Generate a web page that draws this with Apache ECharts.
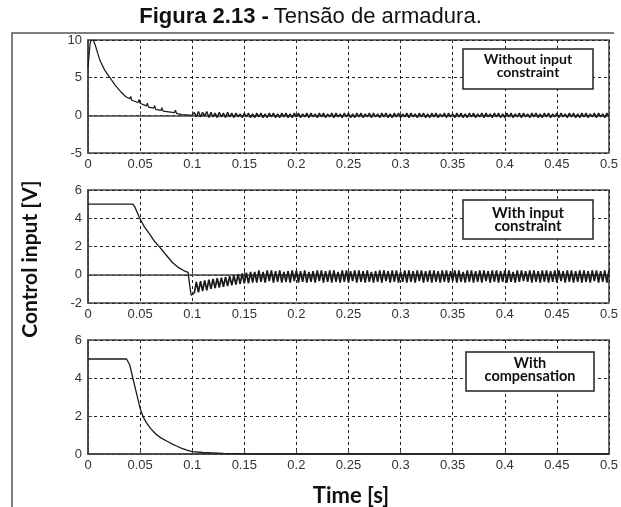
<!DOCTYPE html>
<html><head><meta charset="utf-8">
<script src="https://cdn.jsdelivr.net/npm/echarts@6/dist/echarts.min.js"></script>
<style>html,body{margin:0;padding:0;background:#fff}#c{width:621px;height:507px}</style>
</head><body><div id="c"></div>
<script>
// ---- data ----
const xTicks = [0,0.05,0.1,0.15,0.2,0.25,0.3,0.35,0.4,0.45,0.5];
const panelLabels = ["Without input\nconstraint","With input\nconstraint","With\ncompensation"];

// Panel 1: without input constraint (transient)
const topTime = [0,0.0015,0.002,0.003,0.005,0.007,0.0114,0.016,0.021,0.026,0.031,0.036,0.04,0.041,0.042,0.048,0.049,0.05,0.056,0.057,0.058,0.063,0.064,0.065,0.07,0.071,0.072,0.083,0.084,0.085,0.09,0.095,0.1];
const topVal  = [6.3,6.3,9.5,10,10,9.3,7.3,6.0,5.0,4.0,3.2,2.5,2.2,2.5,2.0,1.7,2.1,1.6,1.25,1.6,1.1,0.95,1.3,0.8,0.65,1.0,0.55,0.35,0.7,0.25,0.1,0.05,0.0];
const topOscStart = 0.102, topOscStep = 0.002;
const topOsc = [
 0.4,-0.2,0.5,-0.2,0.4,-0.1,0.5,-0.3,0.4,-0.2,
 0.3,-0.3,0.4,-0.2,0.3,-0.3,0.4,-0.2,0.3,-0.3,
 0.3,-0.2,0.2,-0.3,0.3,-0.2,0.3,-0.3,0.2,-0.3,
 0.3,-0.2,0.3,-0.3,0.2,-0.3,0.3,-0.2,0.3,-0.3,
 0.2,-0.3,0.3,-0.2,0.3,-0.3,0.2,-0.3,0.3,-0.2,
 0.3,-0.3,0.2,-0.2,0.3,-0.3,0.3,-0.2,0.2,-0.3,
 0.3,-0.2,0.3,-0.3,0.2,-0.2,0.3,-0.3,0.3,-0.2,
 0.2,-0.3,0.3,-0.2,0.3,-0.3,0.2,-0.3,0.3,-0.2,
 0.3,-0.3,0.2,-0.2,0.3,-0.3,0.3,-0.2,0.2,-0.3,
 0.3,-0.2,0.3,-0.3,0.2,-0.3,0.3,-0.2,0.3,-0.3,
 0.2,-0.2,0.3,-0.3,0.3,-0.2,0.2,-0.3,0.3,-0.2,
 0.3,-0.3,0.2,-0.3,0.3,-0.2,0.3,-0.3,0.2,-0.2,
 0.3,-0.3,0.3,-0.2,0.2,-0.3,0.3,-0.2,0.3,-0.3,
 0.2,-0.3,0.3,-0.2,0.3,-0.3,0.2,-0.2,0.3,-0.3,
 0.3,-0.2,0.2,-0.3,0.3,-0.2,0.3,-0.3,0.2,-0.3,
 0.3,-0.2,0.3,-0.3,0.2,-0.2,0.3,-0.3,0.3,-0.2,
 0.2,-0.3,0.3,-0.2,0.3,-0.3,0.2,-0.3,0.3,-0.2,
 0.3,-0.3,0.2,-0.2,0.3,-0.3,0.3,-0.2,0.2,-0.3,
 0.3,-0.2,0.3,-0.3,0.2,-0.3,0.3,-0.2,0.3,-0.3,
 0.2,-0.2,0.3,-0.3,0.3,-0.2,0.2,-0.3,0.3,-0.2
];

// Panel 2: with input constraint
const midTime = [0,0.043,0.045,0.049,0.054,0.059,0.064,0.069,0.075,0.081,0.087,0.093,0.096,0.0975,0.099,0.1];
const midVal  = [5,5,4.8,4.1,3.4,2.9,2.35,1.94,1.4,0.87,0.5,0.25,0.17,-0.7,-1.45,-1.5];
const midOscStart = 0.102, midOscStep = 0.002;
const midOsc = [
 -1.3,-0.5,-1.25,-0.45,-1.15,-0.4,-1.1,-0.35,-1.0,-0.3,
 -0.95,-0.25,-0.9,-0.2,-0.85,-0.15,-0.8,-0.1,-0.75,-0.05,
 -0.7,0.05,-0.65,0.1,-0.6,0.15,-0.6,0.2,-0.55,0.2,
 -0.55,0.3,-0.5,0.2,-0.55,0.3,-0.45,0.3,-0.55,0.25,
 -0.5,0.3,-0.55,0.2,-0.5,0.25,-0.55,0.3,-0.45,0.3,
 -0.55,0.25,-0.5,0.3,-0.55,0.2,-0.5,0.25,-0.55,0.3,
 -0.45,0.3,-0.55,0.25,-0.5,0.3,-0.55,0.3,-0.5,0.2,
 -0.55,0.3,-0.5,0.3,-0.55,0.25,-0.45,0.3,-0.55,0.3,
 -0.5,0.25,-0.55,0.3,-0.5,0.2,-0.55,0.25,-0.5,0.3,
 -0.55,0.3,-0.45,0.25,-0.55,0.3,-0.5,0.3,-0.55,0.2,
 -0.5,0.3,-0.55,0.3,-0.5,0.25,-0.55,0.3,-0.45,0.3,
 -0.55,0.25,-0.5,0.3,-0.55,0.3,-0.5,0.25,-0.55,0.3,
 -0.5,0.3,-0.55,0.25,-0.45,0.3,-0.55,0.3,-0.5,0.2,
 -0.55,0.3,-0.5,0.3,-0.55,0.25,-0.5,0.3,-0.55,0.3,
 -0.45,0.25,-0.55,0.3,-0.5,0.3,-0.55,0.25,-0.5,0.3,
 -0.55,0.3,-0.5,0.2,-0.55,0.3,-0.5,0.3,-0.45,0.25,
 -0.5,0.3,-0.55,0.3,-0.5,0.25,-0.55,0.3,-0.5,0.3,
 -0.55,0.25,-0.5,0.3,-0.55,0.3,-0.45,0.25,-0.55,0.3,
 -0.5,0.3,-0.55,0.25,-0.5,0.3,-0.55,0.3,-0.5,0.25,
 -0.55,0.3,-0.45,0.3,-0.55,0.25,-0.5,0.3,-0.55,0.3
];

// Panel 3: with compensation
const botTime = [0,0.037,0.04,0.043,0.047,0.05,0.053,0.056,0.06,0.065,0.07,0.075,0.08,0.085,0.09,0.095,0.1,0.11,0.12,0.13,0.15,0.2,0.5];
const botVal  = [5,5,4.7,4.0,3.1,2.4,1.95,1.65,1.35,1.05,0.85,0.7,0.55,0.42,0.3,0.2,0.12,0.08,0.06,0.03,0.01,0,0];

const yRanges = [[-5,10,5],[-2,6,2],[0,6,2]];

// ---- build ----
function pairs(t,v){return t.map((x,i)=>[x,v[i]]);}
function osc(start,step,v){return v.map((y,i)=>[+(start+i*step).toFixed(4),y]);}
const topOscData = osc(topOscStart,topOscStep,topOsc);
const midOscData = osc(midOscStart,midOscStep,midOsc);
// [panel, data, width]
const lines = [
  [0, pairs(topTime,topVal).concat([topOscData[0]]), 1.2],
  [0, topOscData, 1.4],
  [1, pairs(midTime,midVal).concat([midOscData[0]]), 1.3],
  [1, midOscData, 1.7],
  [2, pairs(botTime,botVal), 1.3]
];

const tickFont = {fontFamily:'"Liberation Sans Narrow","Liberation Sans",Arial,sans-serif',fontSize:13,color:'#333'};
const grids = [
  {left:88,right:8,top:40,height:113},
  {left:88,right:8,top:190,height:113},
  {left:88,right:8,top:340,height:114}
].map(g=>Object.assign(g,{show:true,borderColor:'#444',borderWidth:1.5,backgroundColor:'#fff'}));

const gridLine = {show:true,lineStyle:{color:'#222',width:1,type:[3,3]}};
const xAxes = [0,1,2].map(i=>({
  type:'value',gridIndex:i,min:0,max:0.5,interval:0.05,
  axisLine:{show:true,lineStyle:{color:'#444',width:1.5}},
  axisTick:{show:true,inside:true,length:4,lineStyle:{color:'#444'}},
  axisLabel:Object.assign({margin:5,formatter:v=>{const k=xTicks.findIndex(t=>Math.abs(t-v)<1e-6);return k>=0?String(xTicks[k]):'';}},tickFont),
  splitLine:gridLine
}));
const yAxes = yRanges.map((r,i)=>({
  type:'value',gridIndex:i,min:r[0],max:r[1],interval:r[2],
  axisLine:{show:true,lineStyle:{color:'#444',width:1.5}},
  axisTick:{show:true,inside:true,length:4,lineStyle:{color:'#444'}},
  axisLabel:Object.assign({margin:6},tickFont),
  splitLine:gridLine
}));
const series = lines.map(l=>({
  type:'line',xAxisIndex:l[0],yAxisIndex:l[0],data:l[1],showSymbol:false,
  lineStyle:{color:'#1a1a1a',width:l[2]},animation:false,clip:true,z:3
}));

const boxes = [[463,49,130,40],[463,200,130,39],[466,352,128,39]];
const boxFont = [14,15,14.5];
const boxDy = [-3,0,-2];
const graphics = [
  {type:'polyline',shape:{points:[[12,507],[12,33],[614,33]]},style:{stroke:'#555',lineWidth:1.5,fill:null},z:10}
];
boxes.forEach((b,i)=>{
  graphics.push({type:'rect',shape:{x:b[0],y:b[1],width:b[2],height:b[3]},style:{fill:'#fff',stroke:'#222',lineWidth:1.5},z:20});
  graphics.push({type:'text',x:b[0]+b[2]/2,y:b[1]+b[3]/2+boxDy[i],style:{text:panelLabels[i],fill:'#111',font:'bold '+boxFont[i]+'px Lato, "Open Sans", sans-serif',textAlign:'center',textVerticalAlign:'middle',lineHeight:13},z:21});
});
graphics.push({type:'text',x:30,y:259,rotation:Math.PI/2,style:{text:'Control input [V]',fill:'#111',font:'bold 21px Lato, "Open Sans", sans-serif',textAlign:'center',textVerticalAlign:'middle'},z:21});
graphics.push({type:'text',x:351,y:496,style:{text:'Time [s]',fill:'#111',font:'bold 22px Lato, "Open Sans", sans-serif',textAlign:'center',textVerticalAlign:'middle'},z:21});

const chart = echarts.init(document.getElementById('c'),null,{renderer:'canvas'});
chart.setOption({
  backgroundColor:'#fff',animation:false,
  title:{text:'{b|Figura 2.13 -} {n|Tensão de armadura.}',left:'center',top:1,
    textStyle:{rich:{b:{fontFamily:'"Liberation Sans",Arial,sans-serif',fontWeight:'bold',fontSize:22,color:'#111'},n:{fontFamily:'"Liberation Sans",Arial,sans-serif',fontWeight:'normal',fontSize:22,color:'#111'}}}},
  grid:grids,xAxis:xAxes,yAxis:yAxes,series:series,graphic:graphics
});
</script></body></html>
